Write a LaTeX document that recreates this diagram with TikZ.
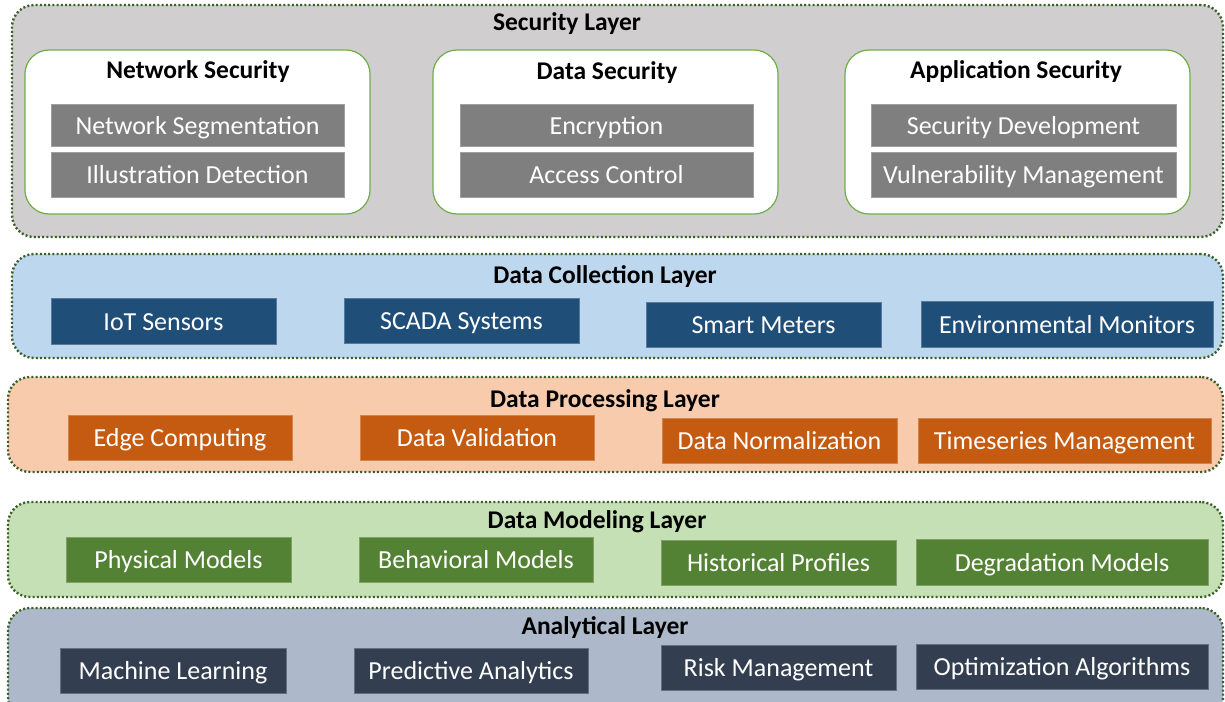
\documentclass[tikz,border=0pt]{standalone}
\usepackage{fontspec}
\setmainfont{Carlito}
\definecolor{secfill}{HTML}{D0CECE}
\definecolor{colfill}{HTML}{BDD7EE}
\definecolor{profill}{HTML}{F8CBAD}
\definecolor{modfill}{HTML}{C5E0B4}
\definecolor{anafill}{HTML}{ADB9CA}
\definecolor{dotgreen}{HTML}{3A5F28}
\definecolor{boxgreen}{HTML}{70AD47}
\definecolor{grayitem}{HTML}{7F7F7F}
\definecolor{blueitem}{HTML}{1F4E79}
\definecolor{orangeitem}{HTML}{C55A11}
\definecolor{greenitem}{HTML}{548235}
\definecolor{navyitem}{HTML}{333F50}
\tikzset{
  layer/.style={draw=dotgreen, line width=2.4pt, dash pattern=on 2pt off 2.2pt, rounded corners=22pt, inner sep=0pt},
  subbox/.style={draw=boxgreen, line width=1.2pt, fill=white, rounded corners=24pt, inner sep=0pt},
  ltitle/.style={font=\fontsize{25.5}{28}\selectfont\bfseries, inner sep=0pt},
  item/.style={fill=#1, draw=#1!75!white, line width=0.8pt, text=white, inner sep=0pt, text height=22pt, text depth=4pt, font=\fontsize{26}{30}\selectfont},
}
\begin{document}
\begin{tikzpicture}[x=1pt, y=-1pt]
\useasboundingbox (0,0) rectangle (1225,701);
\clip (0,0) rectangle (1225,701);
% Security layer
\node[layer, fill=secfill, minimum width=1211, minimum height=232] (sec) at (617.5,121) {};
\node[ltitle] (sect) at (567,24) {Security Layer};
\node[subbox, minimum width=345, minimum height=164] (ns) at (197.5,132) {};
\node[subbox, minimum width=345, minimum height=164] (ds) at (605.5,132) {};
\node[subbox, minimum width=345, minimum height=164] (as) at (1017.5,132) {};
\node[ltitle] (nst) at (198,72) {Network Security};
\node[ltitle] (dst) at (607,73) {Data Security};
\node[ltitle] (ast) at (1016,72) {Application Security};
\node[item=grayitem, minimum width=293, minimum height=42] (ns1) at (197.5,125) {Network Segmentation};
\node[item=grayitem, minimum width=293, minimum height=45] (ns2) at (197.5,174.5) {Illustration Detection};
\node[item=grayitem, minimum width=293, minimum height=42] (ds1) at (606.5,125) {Encryption};
\node[item=grayitem, minimum width=293, minimum height=45] (ds2) at (606.5,174.5) {Access Control};
\node[item=grayitem, minimum width=305, minimum height=42] (as1) at (1023.5,125) {Security Development};
\node[item=grayitem, minimum width=305, minimum height=45] (as2) at (1023.5,174.5) {Vulnerability Management};
% Data collection
\node[layer, fill=colfill, minimum width=1211, minimum height=104] (col) at (617.5,306) {};
\node[ltitle] (colt) at (605,277) {Data Collection Layer};
\node[item=blueitem, minimum width=225, minimum height=46] (c1) at (163.5,321) {IoT Sensors};
\node[item=blueitem, minimum width=235, minimum height=45] (c2) at (461.5,320.5) {SCADA Systems};
\node[item=blueitem, minimum width=235, minimum height=45] (c3) at (763.5,324.5) {Smart Meters};
\node[item=blueitem, minimum width=292, minimum height=46] (c4) at (1067,324) {Environmental Monitors};
% Data processing
\node[layer, fill=profill, minimum width=1215, minimum height=95] (pro) at (615.5,424.5) {};
\node[ltitle] (prot) at (605,401) {Data Processing Layer};
\node[item=orangeitem, minimum width=224, minimum height=45] (p1) at (180,437.5) {Edge Computing};
\node[item=orangeitem, minimum width=234, minimum height=45] (p2) at (477,437.5) {Data Validation};
\node[item=orangeitem, minimum width=235, minimum height=45] (p3) at (779.5,440.5) {Data Normalization};
\node[item=orangeitem, minimum width=293, minimum height=45] (p4) at (1064.5,440.5) {Timeseries Management};
% Data modeling
\node[layer, fill=modfill, minimum width=1215, minimum height=95] (mod) at (615.5,549.5) {};
\node[ltitle] (modt) at (597,522) {Data Modeling Layer};
\node[item=greenitem, minimum width=225, minimum height=45] (m1) at (178.5,559.5) {Physical Models};
\node[item=greenitem, minimum width=234, minimum height=45] (m2) at (476,559.5) {Behavioral Models};
\node[item=greenitem, minimum width=235, minimum height=45] (m3) at (778.5,562.5) {Historical Profiles};
\node[item=greenitem, minimum width=292, minimum height=46] (m4) at (1062,562) {Degradation Models};
% Analytical
\node[layer, fill=anafill, minimum width=1215, minimum height=112] (ana) at (615.5,664) {};
\node[ltitle] (anat) at (605,628) {Analytical Layer};
\node[item=navyitem, minimum width=226, minimum height=45] (a1) at (173,670.5) {Machine Learning};
\node[item=navyitem, minimum width=234, minimum height=45] (a2) at (471,670.5) {Predictive Analytics};
\node[item=navyitem, minimum width=235, minimum height=45] (a3) at (778.5,667.5) {Risk Management};
\node[item=navyitem, minimum width=292, minimum height=45] (a4) at (1062,666.5) {Optimization Algorithms};
\end{tikzpicture}
\end{document}
